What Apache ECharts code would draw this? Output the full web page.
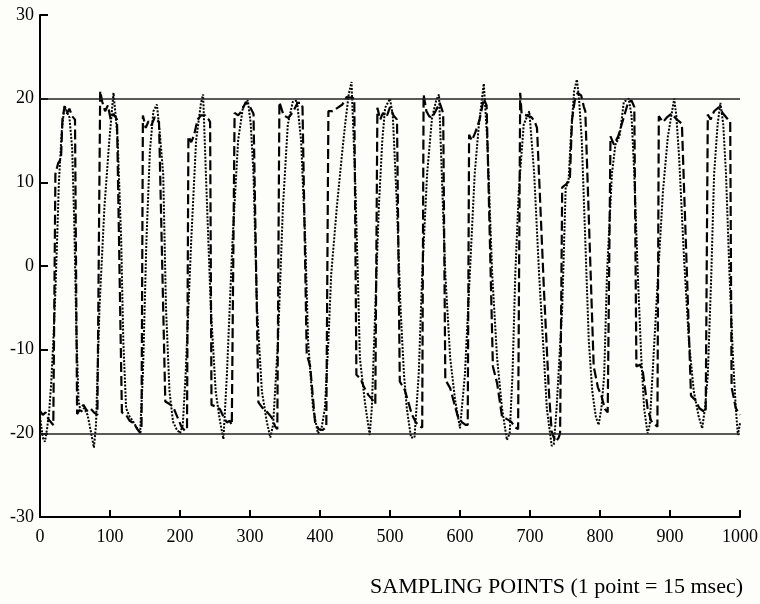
<!DOCTYPE html>
<html>
<head>
<meta charset="utf-8">
<script src="https://cdn.jsdelivr.net/npm/echarts@6/dist/echarts.min.js"></script>
<style>
  html, body { margin: 0; padding: 0; background: #fdfdfa; }
  #chart { width: 760px; height: 604px; }
</style>
</head>
<body>
<div id="chart"></div>
<script>
// x ticks and y ticks
var xTicks = [0, 100, 200, 300, 400, 500, 600, 700, 800, 900, 1000];
var yTicks = [-30, -20, -10, 0, 10, 20, 30];
var refLevels = [20, -20];
var axisTitle = 'SAMPLING POINTS (1 point = 15 msec)';

// dashed trace, [sample, value]
var dashedPts = [
  [0,-17.3],[4,-17.8],[8,-17.5],[12,-18.3],[16,-18.7],[19,-19],
  [21,-19],[22,11],[26,12.3],[30,12.8],[32,17.5],[35,19],[38,18.2],[42,18.8],[46,17.9],[50,17.5],
  [51,17.5],[53,-17.7],[58,-17],[62,-16.6],[67,-17.3],[72,-17],[77,-17.5],[82,-17.8],
  [84,-17.8],[86,20.9],[89,19.6],[93,18.5],[97,19.2],[101,17.5],[105,18.2],[110,17.5],
  [112,17.3],[117,-17.5],[123,-17.8],[128,-18.5],[134,-18.8],[139,-19.5],[143,-19.9],
  [145,-19.5],[147,18],[151,16.5],[155,17.3],[159,16.8],[164,17.8],[170,17.2],
  [172,17],[179,-16.2],[185,-16.5],[190,-16.8],[196,-18],[202,-19.2],[207,-19.7],
  [210,-19.5],[212,15.5],[216,14.8],[220,15.6],[225,17.5],[230,18],[236,18],[241,17.5],
  [243,17.2],[245,-16.6],[251,-16.8],[257,-17.1],[262,-18],[267,-18.7],[271,-18.5],[274,-19],
  [276,-19],[278,18.3],[283,18],[288,18.5],[294,19.6],[300,19],[305,18.2],
  [307,18],[312,-16.3],[319,-17.1],[325,-17.5],[331,-18.1],[336,-19.2],[339,-19.5],
  [341,-19.5],[342,19.6],[348,18],[355,17.7],[362,18.5],[368,19.5],[373,19.5],
  [375,19],[381,-10.5],[386,-12],[393,-18.7],[398,-19.5],[404,-19.6],[409,-19.2],
  [411,-19.2],[412,18.5],[418,18.5],[425,18.9],[432,19.3],[438,20.2],[446,20.1],[449,20],
  [450,20],[452,-13],[458,-13.5],[463,-14.5],[469,-15.4],[475,-16],[479,-16.5],
  [481,-16.5],[482,18.9],[486,17.5],[490,18.3],[495,17.8],[500,19],[505,18],[510,17.5],
  [511,17.3],[514,-13.8],[521,-14.8],[527,-16.5],[531,-17.7],[537,-18.7],[543,-19.2],
  [546,-19.3],[548,20.5],[552,18.5],[556,17.9],[560,17.7],[565,18.5],[571,19.5],[575,18.5],
  [576,18.2],[579,-13.6],[586,-14.6],[592,-16.5],[597,-18],[603,-18.7],[608,-19],
  [611,-19],[613,15.7],[617,15],[622,16],[628,17.5],[634,20],[638,19.2],
  [640,19],[647,-12],[653,-14],[660,-18],[667,-18.3],[673,-18.6],[679,-19.3],[683,-19.5],
  [685,-19.5],[686,20.7],[688,18.2],[695,18],[702,17.8],[707,17.2],
  [710,16.5],[720,-3],[727,-15],[731,-19.8],[734,-20.5],[737,-21],[741,-20.5],
  [743,-20],[746,9.4],[752,9.8],[757,10.5],[760,17.5],[764,19.8],[768,20.7],[773,20.4],[777,19],
  [779,18.5],[791,-12],[797,-14.5],[802,-15.5],[807,-17.1],[811,-17.5],
  [813,-17.5],[815,15.5],[820,14.5],[826,15.5],[833,17.5],[840,19.5],[845,19.8],[849,19],
  [850,18.8],[852,-12],[857,-11.8],[861,-12.5],[868,-17],[873,-18.5],[879,-19],[882,-19.2],
  [883,-19],[884,17.9],[890,17.2],[896,17.8],[902,18.2],[910,17.5],[917,17],
  [919,16.8],[926,-5.5],[930,-15.5],[936,-16],[942,-17],[947,-17.3],[951,-17.5],
  [953,-17.5],[954,18.1],[958,17.5],[963,18.5],[970,19],[976,18.2],[983,17.5],
  [986,17.3],[988,-14.5],[994,-17],[1000,-17.8]
];

// dotted trace
var dottedPts = [
  [0,-18],[4,-20.5],[7,-21],[10,-19.5],[13,-17.5],[16,-14],[19,-9],[22,-3],[24,2],[27,10],[31,16],[35,19.2],
  [38,18.5],[42,17.8],[46,14],[49,5],[52,-8],[55,-16],[58,-17.5],[63,-17],[68,-17.8],[72,-19.5],[77,-21.7],
  [80,-19],[85,-5],[92,7],[99,15],[105,20.7],[108,18],[111,15],[116,3],[119,-9],[123,-17],[128,-18],
  [133,-18.6],[138,-19.3],[143,-20],[147,-13],[152,3],[157,13.7],[162,18.5],[167,19.3],[171,16],[176,11],
  [180,-5],[185,-15],[190,-18.6],[195,-19.5],[200,-20],[204,-19],[208,-13],[216,3],[223,15],[230,19.5],
  [233,20.5],[237,11],[244,-5],[251,-15],[257,-18.5],[262,-20.7],[264,-20.5],[267,-13],[275,3],[283,15],
  [290,19],[297,19.8],[301,17],[305,11],[310,-5],[317,-15],[324,-18.6],[329,-20.5],[333,-19],[340,-9],
  [347,7],[354,16.9],[361,19.6],[367,19.8],[373,15],[379,3],[383,-9],[390,-17],[397,-20],[402,-19.5],
  [407,-17],[412,-9],[416,-1],[424,7],[431,13],[436,17],[441,20.5],[445,22],[450,11],[454,-1],[457,-11],
  [464,-16.2],[471,-20.2],[474,-17],[479,-5],[484,7],[489,15],[493,18.9],[500,20],[504,18],[510,7],
  [515,-5],[520,-13],[524,-17],[530,-20.5],[535,-20.5],[541,-13],[546,-1],[553,11],[560,17.7],[566,19.8],
  [570,20.5],[574,11],[579,-1],[586,-11],[593,-16],[600,-19.4],[607,-13],[614,-1],[621,11],[627,16.9],
  [634,21.8],[639,15],[646,-1],[653,-11],[660,-17],[667,-20.8],[671,-20],[675,-13],[679,-1],[684,9],
  [691,16.9],[699,18.5],[706,11],[713,-1],[720,-11],[724,-17],[731,-21.5],[734,-21.3],[738,-17],[746,-5],
  [751,9.4],[755,10],[758,14.9],[763,20.9],[767,22.3],[770,20],[774,15],[779,3],[784,-9],[789,-15],
  [794,-18],[798,-19],[802,-17],[806,-13],[810,-1],[817,11],[822,14.5],[828,15.5],[834,19.6],[841,20],
  [845,18],[849,11],[854,-1],[859,-11],[863,-17],[868,-20],[871,-19],[875,-13],[883,-1],[890,9],
  [897,15.5],[906,20],[909,18],[913,13],[920,1],[927,-9],[934,-15],[941,-18],[946,-19.4],[950,-17],
  [954,-13],[959,-1],[963,11],[968,16.9],[972,19.5],[976,17],[980,11],[985,-1],[990,-11],[994,-17],
  [997,-20.2],[1000,-18.8]
];

var chart = echarts.init(document.getElementById('chart'), null, {renderer: 'canvas'});
var serif = 'Liberation Serif, Times New Roman, serif';

var option = {
  backgroundColor: '#fdfdfa',
  animation: false,
  title: {
    text: axisTitle,
    right: 17,
    top: 576,
    padding: 0,
    textStyle: {fontFamily: serif, fontWeight: 'normal', fontSize: 22, color: '#000'}
  },
  grid: {left: 40, right: 20, top: 15, bottom: 87, outerBoundsMode: 'none'},
  xAxis: {
    type: 'value',
    min: xTicks[0],
    max: xTicks[xTicks.length - 1],
    interval: 100,
    axisLine: {show: true, onZero: false, lineStyle: {color: '#000', width: 2}},
    axisTick: {show: true, inside: true, length: 7, lineStyle: {color: '#000', width: 2}},
    axisLabel: {color: '#000', fontFamily: serif, fontSize: 18, margin: 11,
      formatter: function (v) { return String(v); }},
    splitLine: {show: false}
  },
  yAxis: {
    type: 'value',
    min: yTicks[0],
    max: yTicks[yTicks.length - 1],
    interval: 10,
    axisLine: {show: true, onZero: false, lineStyle: {color: '#000', width: 2}},
    axisTick: {show: true, inside: true, length: 8, lineStyle: {color: '#000', width: 2}},
    axisLabel: {color: '#000', fontFamily: serif, fontSize: 18, margin: 6},
    splitLine: {show: false}
  },
  series: [
    {
      name: 'dashed',
      type: 'line',
      data: dashedPts,
      showSymbol: false,
      symbol: 'none',
      lineStyle: {color: '#000', width: 2.2, type: [10, 4]},
      markLine: {
        silent: true,
        symbol: ['none', 'none'],
        label: {show: false},
        lineStyle: {color: '#222', width: 1.5, type: 'solid'},
        data: refLevels.map(function (v) { return {yAxis: v}; })
      },
      z: 3
    },
    {
      name: 'dotted',
      type: 'line',
      data: dottedPts,
      showSymbol: false,
      symbol: 'none',
      lineStyle: {color: '#000', width: 2, type: [2, 1.5]},
      z: 2
    }
  ]
};
chart.setOption(option);
</script>
</body>
</html>
